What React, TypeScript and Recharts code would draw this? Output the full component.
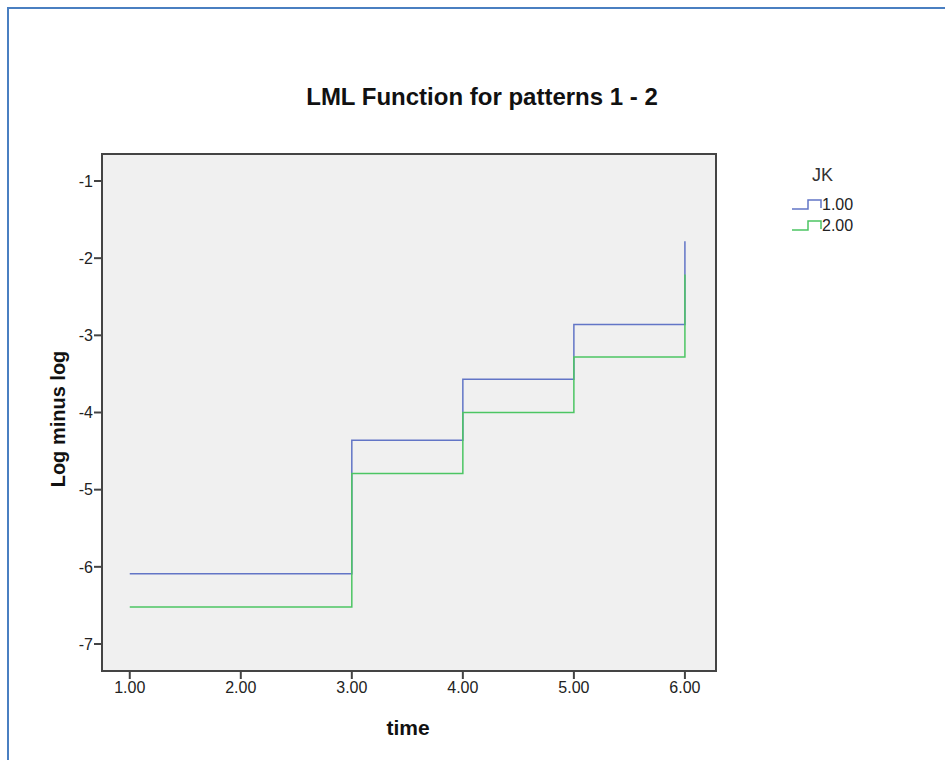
import { Line, LineChart, ReferenceArea, XAxis, YAxis } from "recharts";

const times = [1, 3, 4, 5, 6];
const jk1 = [-6.09, -4.36, -3.57, -2.86, -1.78];
const jk2 = [-6.52, -4.79, -4.0, -3.28, -2.21];
const xTicks = [1, 2, 3, 4, 5, 6];
const yTicks = [-7, -6, -5, -4, -3, -2, -1];
const seriesNames = ["1.00", "2.00"];

const BLUE = "#6275c6";
const GREEN = "#4cc563";
const FONT = "'Liberation Sans', Arial, sans-serif";

const data = times.map((t, i) => ({ time: t, jk1: jk1[i], jk2: jk2[i] }));

const X_DOMAIN: [number, number] = [0.75, 6.28];
const Y_DOMAIN: [number, number] = [-7.35, -0.65];

function StepIcon({ color }: { color: string }) {
  return (
    <svg width={31} height={12} style={{ display: "block" }}>
      <path d="M0 10 H16 V1 H29 V9" fill="none" stroke={color} strokeWidth={1.5} />
    </svg>
  );
}

export default function App() {
  return (
    <div style={{ position: "absolute", left: 0, top: 0, width: 945, height: 760, background: "#fff", fontFamily: FONT, overflow: "hidden" }}>
      <div style={{ position: "absolute", left: 7, top: 7, width: 960, height: 780, borderLeft: "2px solid #4a7fc1", borderTop: "2px solid #4a7fc1" }} />
      <div style={{ position: "absolute", left: 0, top: 0 }}>
        <LineChart width={945} height={760} data={data} margin={{ top: 154, right: 229, bottom: 0, left: 42 }}>
          <XAxis
            dataKey="time"
            type="number"
            domain={X_DOMAIN}
            ticks={xTicks}
            allowDataOverflow
            tickFormatter={(v: number) => v.toFixed(2)}
            axisLine={false}
            tickLine={{ stroke: "#444", strokeWidth: 2 }}
            tickSize={8}
            height={89}
            tick={{ fill: "#222", fontSize: 16, fontFamily: FONT, dy: 1 }}
          />
          <YAxis
            type="number"
            domain={Y_DOMAIN}
            ticks={yTicks}
            allowDataOverflow
            axisLine={false}
            tickLine={{ stroke: "#444", strokeWidth: 2 }}
            tickSize={8}
            width={60}
            tick={{ fill: "#222", fontSize: 16, fontFamily: FONT, dx: 1 }}
          />
          <ReferenceArea
            x1={X_DOMAIN[0]}
            x2={X_DOMAIN[1]}
            y1={Y_DOMAIN[0]}
            y2={Y_DOMAIN[1]}
            fill="#f0f0f0"
            fillOpacity={1}
            stroke="#444"
            strokeWidth={2}
          />
          <Line type="stepAfter" dataKey="jk1" stroke={BLUE} strokeWidth={1.5} dot={false} isAnimationActive={false} />
          <Line type="stepAfter" dataKey="jk2" stroke={GREEN} strokeWidth={1.5} dot={false} isAnimationActive={false} />
        </LineChart>
      </div>
      <div style={{ position: "absolute", left: 0, width: 964, top: 97, transform: "translateY(-50%)", textAlign: "center", fontSize: 24, fontWeight: "bold", color: "#111" }}>
        LML Function for patterns 1 - 2
      </div>
      <div style={{ position: "absolute", left: 58, top: 419, transform: "translate(-50%, -50%) rotate(-90deg)", whiteSpace: "nowrap", fontSize: 20, fontWeight: "bold", color: "#111" }}>
        Log minus log
      </div>
      <div style={{ position: "absolute", left: 408, top: 728, transform: "translate(-50%, -50%)", fontSize: 21, fontWeight: "bold", color: "#111" }}>
        time
      </div>
      <div style={{ position: "absolute", left: 812, top: 175, transform: "translateY(-50%)", fontSize: 18, color: "#333" }}>JK</div>
      {seriesNames.map((name, i) => (
        <div key={name} style={{ position: "absolute", left: 792, top: 205 + i * 21, transform: "translateY(-50%)", display: "flex", alignItems: "center", fontSize: 16, color: "#222" }}>
          <StepIcon color={i === 0 ? BLUE : GREEN} />
          <span style={{ marginLeft: -1 }}>{name}</span>
        </div>
      ))}
    </div>
  );
}
